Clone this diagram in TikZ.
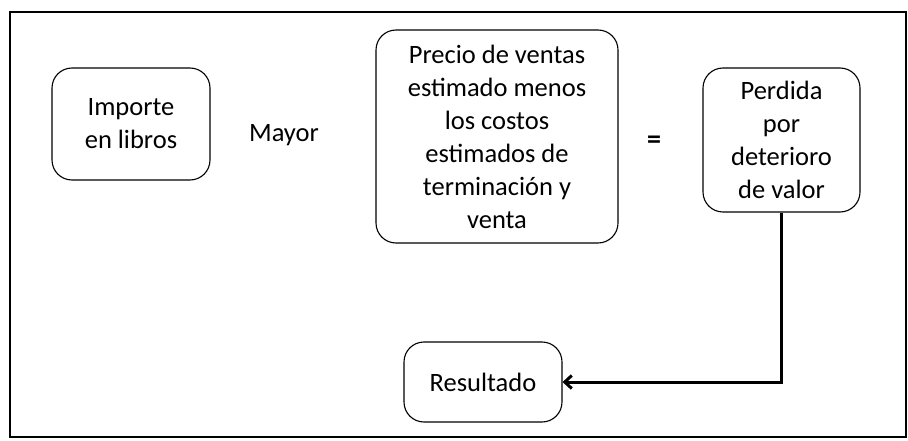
\documentclass[tikz,border=0pt]{standalone}
\usepackage{fontspec}
\setmainfont{Carlito}
\usetikzlibrary{arrows.meta}
\begin{document}
\begin{tikzpicture}[x=1pt,y=1pt,
  roundbox/.style={draw=black,line width=1.1pt,rounded corners=20pt,align=center,
    inner sep=0pt,font=\fontsize{26.5}{33}\selectfont},
  plaintext/.style={font=\fontsize{26.5}{33}\selectfont,inner sep=0pt}]
\useasboundingbox (0,0) rectangle (908,440);
\draw[line width=2pt] (10,428) rectangle (906,3);
\node[roundbox,minimum width=158pt,minimum height=112pt] (importe) at (131,316) {Importe\\en libros};
\node[plaintext] (mayor) at (284,305) {Mayor};
\node[roundbox,minimum width=242pt,minimum height=213pt] (precio) at (497,303.5)
  {Precio de ventas\\estimado menos\\los costos\\estimados de\\terminación y\\venta};
\node[plaintext,font=\fontsize{28}{30}\selectfont\bfseries] (igual) at (654,298) {=};
\node[roundbox,minimum width=157pt,minimum height=144pt] (perdida) at (781.5,300)
  {Perdida\\por\\deterioro\\de valor};
\node[roundbox,minimum width=158pt,minimum height=80pt] (resultado) at (483,58) {Resultado};
\draw[line width=3pt,-{Straight Barb[length=7pt,width=13pt]}] (perdida.south) |- (resultado.east);
\end{tikzpicture}
\end{document}
